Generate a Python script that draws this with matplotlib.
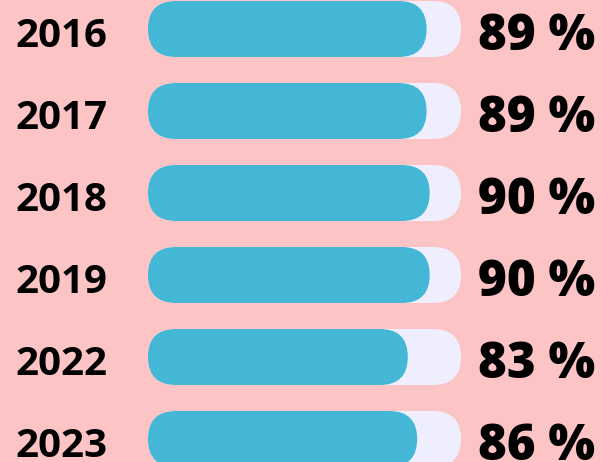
import matplotlib
matplotlib.use('Agg')
import matplotlib.pyplot as plt
from matplotlib.patches import FancyBboxPatch

years = ['2016', '2017', '2018', '2019', '2022', '2023']
rates = [89, 89, 90, 90, 83, 86]

bg = '#fcc4c4'
track_color = '#eeeeff'
fill_color = '#43b7d5'

# layout in pixels
W, H = 602, 462
track_left, track_right = 148, 461
row0, row_step = 29, 82
bar_h = 56

px_per_x = (track_right - track_left) / 100.0
px_per_y = row_step

fig = plt.figure(figsize=(W / 100, H / 100), dpi=100)
fig.patch.set_facecolor(bg)
ax = fig.add_axes([0, 0, 1, 1])
ax.set_facecolor(bg)
ax.set_xlim(-track_left / px_per_x, (W - track_left) / px_per_x)
ax.set_ylim((H - row0) / px_per_y, -row0 / px_per_y)
ax.axis('off')

h = bar_h / px_per_y
r = (bar_h / 2) / px_per_x
aspect = px_per_x / px_per_y

for i, (yr, v) in enumerate(zip(years, rates)):
    track = FancyBboxPatch((0, i - h / 2), 100, h,
                           boxstyle=f'round,pad=0,rounding_size={r}',
                           mutation_aspect=aspect, fc=track_color, ec='none')
    ax.add_patch(track)
    fill = FancyBboxPatch((0, i - h / 2), v, h,
                          boxstyle=f'round,pad=0,rounding_size={r}',
                          mutation_aspect=aspect, fc=fill_color, ec='none')
    ax.add_patch(fill)
    ax.text((15 - track_left) / px_per_x, i + 18 / px_per_y, yr,
            ha='left', va='baseline',
            fontsize=29, fontweight='bold', family='Open Sans', color='black')
    ax.text((478 - track_left) / px_per_x, i + 21 / px_per_y, f'{v} %',
            ha='left', va='baseline',
            fontsize=35.5, fontweight='heavy', family='Open Sans', color='black')

fig.savefig('out.png', dpi=100, facecolor=bg)
